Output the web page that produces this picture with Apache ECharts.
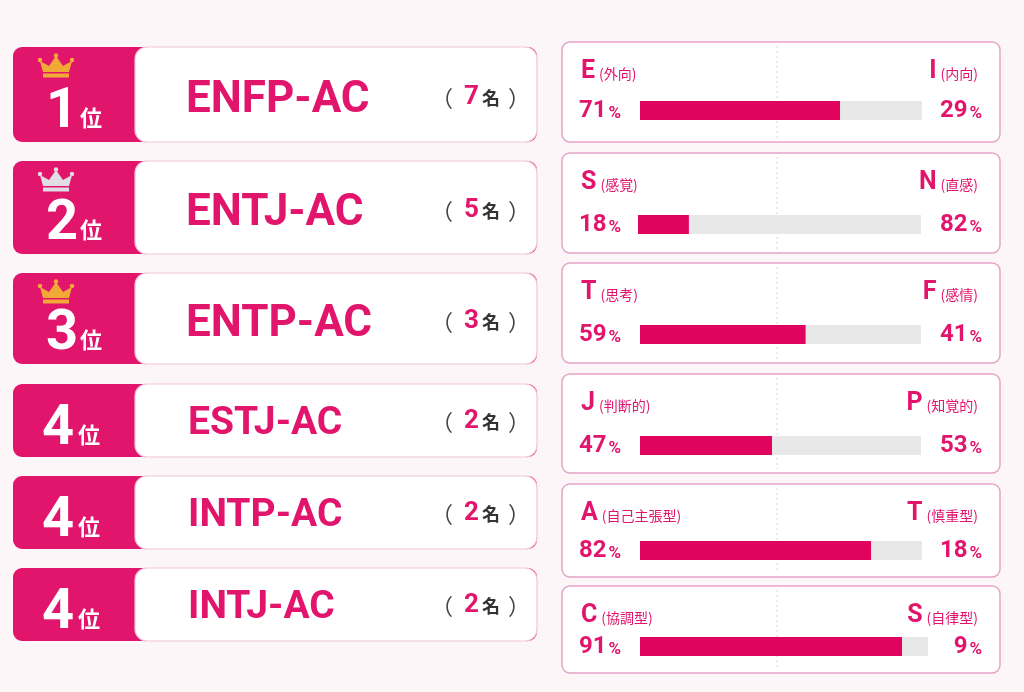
<!DOCTYPE html>
<html>
<head>
<meta charset="utf-8">
<script src="https://cdn.jsdelivr.net/npm/echarts@6/dist/echarts.min.js"></script>
<style>
  html, body { margin: 0; padding: 0; background: #fcf6f8; }
  #main { width: 1024px; height: 692px; }
</style>
</head>
<body>
<div id="main"></div>
<script>
// ランキング（左側）
const ranks = ['1', '2', '3', '4', '4', '4'];
const types = ['ENFP-AC', 'ENTJ-AC', 'ENTP-AC', 'ESTJ-AC', 'INTP-AC', 'INTJ-AC'];
const counts = [7, 5, 3, 2, 2, 2];
const crowns = ['gold', 'silver', 'gold', null, null, null];

// 指標（右側）
const leftLetters = ['E', 'S', 'T', 'J', 'A', 'C'];
const leftNames = ['(外向)', '(感覚)', '(思考)', '(判断的)', '(自己主張型)', '(協調型)'];
const rightLetters = ['I', 'N', 'F', 'P', 'T', 'S'];
const rightNames = ['(内向)', '(直感)', '(感情)', '(知覚的)', '(慎重型)', '(自律型)'];
const leftPct = [71, 18, 59, 47, 82, 91];
const rightPct = [29, 82, 41, 53, 18, 9];

const PINK = '#e2156d';
const BAR = '#e0045f';
const TRACK = '#e8e8e8';
const JP = '"Noto Sans CJK JP", "Noto Sans", sans-serif';

// レイアウト
const cardTop = [47, 161, 273, 384, 476, 568];
const cardH = [95, 93, 91, 73, 73, 73];
const panelTop = [42, 153, 263, 374, 484, 586];
const panelH = [100, 100, 100, 99, 93, 87];
const barTop = [101, 215, 325, 436, 541, 637];
const barLeft = [640, 638, 640, 640, 640, 640];
const barRight = [922, 921, 921, 921, 922, 928];

var chart = echarts.init(document.getElementById('main'));
var graphic = [];

function crown(x, y, color) {
    // x,y = 左上
    graphic.push({
        type: 'polygon', z: 6,
        shape: { points: [[x + 3, y + 17], [x, y + 6], [x + 9, y + 11], [x + 16, y + 1], [x + 23, y + 11], [x + 32, y + 6], [x + 29, y + 17]] },
        style: { fill: color }
    });
    graphic.push({ type: 'rect', z: 6, shape: { x: x + 3, y: y + 18.5, width: 26, height: 4 }, style: { fill: color } });
    [[x, y + 5], [x + 16, y + 0.5], [x + 32, y + 5]].forEach(function (p) {
        graphic.push({ type: 'circle', z: 6, shape: { cx: p[0], cy: p[1], r: 2.2 }, style: { fill: color } });
    });
}

for (let i = 0; i < 6; i++) {
    let top = cardTop[i], h = cardH[i];
    let big = i < 3;
    // 左のカード
    graphic.push({ type: 'rect', z: 1, shape: { x: 13, y: top, width: 524, height: h, r: 9 }, style: { fill: PINK } });
    graphic.push({ type: 'rect', z: 2, shape: { x: 135, y: top, width: 402, height: h, r: 12 },
        style: { fill: '#ffffff', stroke: '#f0c3d9', lineWidth: 1.2 } });
    if (crowns[i]) {
        crown(40, top + 8, crowns[i] == 'gold' ? '#f2aa36' : '#dedee4');
    }
    let numBottom = big ? top + h - 14 : top + h - 12;
    graphic.push({ type: 'text', z: 6, x: big ? 46 : 42, y: numBottom - 20 + 4.5,
        style: { text: ranks[i], fill: '#fff', font: 'bold 56px Roboto', textVerticalAlign: 'middle' } });
    graphic.push({ type: 'text', z: 6, x: big ? 80 : 78, y: numBottom - 11 + 1,
        style: { text: '位', fill: '#fff', font: 'bold 22px ' + JP, textVerticalAlign: 'middle' } });
    let midY = top + h / 2 + (big ? 3 : 1);
    let fs = big ? 44 : 39;
    graphic.push({ type: 'text', z: 6, x: big ? 186 : 188, y: midY + fs * 0.08,
        style: { text: types[i], fill: PINK, font: 'bold ' + fs + 'px Roboto', textVerticalAlign: 'middle' } });
    graphic.push({ type: 'text', z: 6, x: 530, y: midY,
        style: {
            text: '{a|（}{n|' + counts[i] + '}{m|名}{b|）}',
            align: 'right', verticalAlign: 'middle',
            rich: {
                a: { fill: '#444', font: '22px ' + JP, padding: [0, 11, 0, 0] },
                n: { fill: PINK, font: 'bold 26px Roboto', padding: [0, 3, 0, 0] },
                m: { fill: '#333', font: 'bold 18px ' + JP, padding: [2, 8, 0, 0] },
                b: { fill: '#444', font: '22px ' + JP }
            }
        } });

    // 右のパネル
    let pt = panelTop[i], ph = panelH[i];
    graphic.push({ type: 'rect', z: 0, shape: { x: 562, y: pt, width: 438, height: ph, r: 8 },
        style: { fill: '#ffffff', stroke: '#e6a4c6', lineWidth: 1.5 } });
    graphic.push({ type: 'line', z: 1, shape: { x1: 777, y1: pt + 4, x2: 777, y2: pt + ph - 4 },
        style: { stroke: '#d6d6d6', lineWidth: 1, lineDash: [2, 3] } });
    let ly = pt + 30;
    graphic.push({ type: 'text', z: 6, x: 581, y: ly,
        style: {
            text: '{b|' + leftLetters[i] + '}{s|' + leftNames[i] + '}',
            verticalAlign: 'middle',
            rich: {
                b: { fill: PINK, font: 'bold 25px Roboto' },
                s: { fill: PINK, font: '14px ' + JP, padding: [4, 0, 0, 4] }
            }
        } });
    graphic.push({ type: 'text', z: 6, x: 978, y: ly,
        style: {
            text: '{b|' + rightLetters[i] + '}{s|' + rightNames[i] + '}',
            align: 'right', verticalAlign: 'middle',
            rich: {
                b: { fill: PINK, font: 'bold 25px Roboto' },
                s: { fill: PINK, font: '14px ' + JP, padding: [4, 0, 0, 4] }
            }
        } });
    let by = barTop[i] + 10;
    graphic.push({ type: 'text', z: 6, x: 579, y: by,
        style: {
            text: '{b|' + leftPct[i] + '}{s|%}', verticalAlign: 'middle',
            rich: { b: { fill: PINK, font: 'bold 24px Roboto' }, s: { fill: PINK, font: 'bold 17px Roboto', padding: [5, 0, 0, 2] } }
        } });
    graphic.push({ type: 'text', z: 6, x: 982, y: by,
        style: {
            text: '{b|' + rightPct[i] + '}{s|%}', align: 'right', verticalAlign: 'middle',
            rich: { b: { fill: PINK, font: 'bold 24px Roboto' }, s: { fill: PINK, font: 'bold 17px Roboto', padding: [5, 0, 0, 2] } }
        } });
}

var grids = [], xAxes = [], yAxes = [], series = [];
for (let i = 0; i < 6; i++) {
    grids.push({ left: barLeft[i], top: barTop[i], width: barRight[i] - barLeft[i], height: 19 });
    xAxes.push({ gridIndex: i, type: 'value', min: 0, max: 100, show: false });
    yAxes.push({ gridIndex: i, type: 'category', data: [leftLetters[i]], show: false });
    series.push({ type: 'bar', xAxisIndex: i, yAxisIndex: i, stack: 's' + i, barWidth: 19, silent: true,
        data: [leftPct[i]], itemStyle: { color: BAR }, z: 3 });
    series.push({ type: 'bar', xAxisIndex: i, yAxisIndex: i, stack: 's' + i, barWidth: 19, silent: true,
        data: [rightPct[i]], itemStyle: { color: TRACK }, z: 3 });
}

var option = {
    backgroundColor: '#fcf6f8',
    animation: false,
    grid: grids,
    xAxis: xAxes,
    yAxis: yAxes,
    series: series,
    graphic: { elements: graphic }
};
option && chart.setOption(option);
</script>
</body>
</html>
